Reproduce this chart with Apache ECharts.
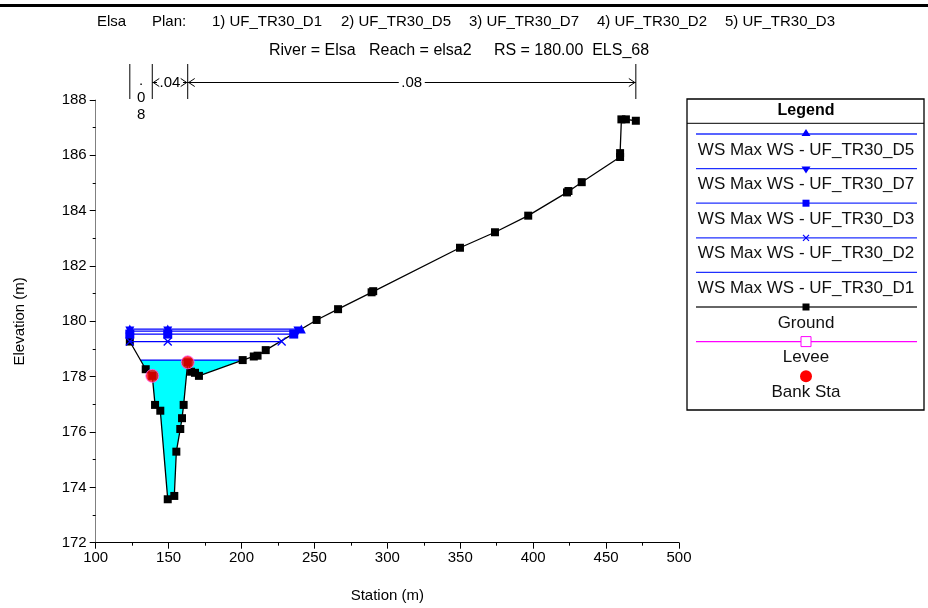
<!DOCTYPE html>
<html><head><meta charset="utf-8">
<script src="https://cdn.jsdelivr.net/npm/echarts@6/dist/echarts.min.js"></script>
<style>html,body{margin:0;padding:0;background:#fff}#c{width:928px;height:608px}</style>
</head><body><div id="c"></div>
<script>
// ---------- data ----------
const groundSta  = [123.4,134.3,138.8,140.7,144.3,149.4,153.9,155.3,158.0,159.2,160.3,163.1,165.4,168.1,170.8,200.8,208.4,211.0,216.6,251.5,266.2,289.2,290.3,349.8,373.8,396.6,423.2,424.2,433.3,459.6,459.6,460.5,463.6,470.4];
const groundElev = [179.27,178.27,178.03,176.98,176.77,173.57,173.69,175.29,176.11,176.50,176.98,178.52,178.18,178.14,178.03,178.60,178.73,178.76,178.96,180.05,180.44,181.05,181.09,182.66,183.22,183.82,184.66,184.71,185.03,185.94,186.08,187.30,187.30,187.25];

const wsNames    = ['WS Max WS - UF_TR30_D5','WS Max WS - UF_TR30_D7','WS Max WS - UF_TR30_D3','WS Max WS - UF_TR30_D2','WS Max WS - UF_TR30_D1'];
const wsElev     = [179.72, 179.65, 179.54, 179.27, 178.60];
const wsLeftSta  = [123.4, 123.4, 123.4, 123.4, 130.8];
const wsMidSta   = [149.4, 149.4, 149.4, 149.4, null];
const wsRightSta = [241.0, 238.7, 235.8, 227.5, 200.8];

const bankSta  = [138.8, 163.1];
const bankElev = [178.03, 178.52];

const nBreakSta = [123.4, 138.8, 163.1, 470.4];
const nValues   = ['.08', '.04', '.08'];

const headerParts = ['Elsa', 'Plan:', '1) UF_TR30_D1', '2) UF_TR30_D5', '3) UF_TR30_D7', '4) UF_TR30_D2', '5) UF_TR30_D3'];
const subTitle = 'River = Elsa   Reach = elsa2     RS = 180.00  ELS_68';
const xTicks = {min: 100, max: 500, step: 50};
const yTicks = {min: 172, max: 188, step: 2};
const legendNames = wsNames.concat(['Ground', 'Levee', 'Bank Sta']);

// ---------- chart ----------
const FONT = "'Liberation Sans', Arial, sans-serif";
const chart = echarts.init(document.getElementById('c'), null, {renderer: 'canvas'});

const BLUE = '#0000ff';
const wsSymbols = ['triangle', 'triangle', 'rect', 'path://M0,0L10,10M10,0L0,10', 'none'];
const wsRotate  = [0, 180, 0, 0, 0];

const series = [];
series.push({
  type: 'line', name: wsNames[4], z: 1,
  data: [[wsLeftSta[4], wsElev[4]], [wsRightSta[4], wsElev[4]]],
  symbol: 'none', lineStyle: {color: BLUE, width: 1.2},
  areaStyle: {color: '#00ffff', opacity: 1, origin: 'start'},
  animation: false
});
series.push({
  type: 'line', name: 'Ground', z: 2,
  data: groundSta.map((s, i) => [s, groundElev[i]]),
  symbol: 'rect', symbolSize: 8,
  itemStyle: {color: '#000'}, lineStyle: {color: '#000', width: 1.3},
  areaStyle: {color: '#fff', opacity: 1, origin: 'start'},
  animation: false
});
for (let i = 0; i < 4; i++) {
  const isX = i === 3;
  series.push({
    type: 'line', name: wsNames[i], z: 3,
    data: [[wsLeftSta[i], wsElev[i]], [wsMidSta[i], wsElev[i]], [wsRightSta[i], wsElev[i]]],
    symbol: wsSymbols[i], symbolRotate: wsRotate[i], symbolSize: isX ? 8 : 9,
    itemStyle: isX ? {color: 'none', borderColor: BLUE, borderWidth: 1.3} : {color: BLUE},
    lineStyle: {color: BLUE, width: 1.2},
    animation: false
  });
}
series.push({
  type: 'scatter', name: 'Bank Sta', z: 4,
  data: bankSta.map((s, i) => [s, bankElev[i]]),
  symbol: 'circle', symbolSize: 13,
  itemStyle: {color: '#ff0000', borderColor: '#ff60ff', borderWidth: 1},
  animation: false
});

chart.setOption({
  animation: false,
  backgroundColor: '#fff',
  grid: {left: 95.7, right: 249, top: 100, bottom: 65.3, containLabel: false, outerBoundsMode: 'none'},
  xAxis: {
    type: 'value', min: xTicks.min, max: xTicks.max, interval: xTicks.step, z: 5,
    name: 'Station (m)', nameLocation: 'middle', nameGap: 46,
    nameTextStyle: {fontFamily: FONT, fontSize: 15, color: '#000'},
    axisLine: {lineStyle: {color: '#000', width: 1}},
    axisTick: {show: true, inside: false, length: 6, lineStyle: {color: '#000'}},
    minorTick: {show: true, splitNumber: 2, length: 3, lineStyle: {color: '#000'}},
    splitLine: {show: false}, minorSplitLine: {show: false},
    axisLabel: {fontFamily: FONT, fontSize: 15, color: '#000', margin: 8}
  },
  yAxis: {
    type: 'value', min: yTicks.min, max: yTicks.max, interval: yTicks.step, z: 5,
    name: 'Elevation (m)', nameLocation: 'middle', nameGap: 68,
    nameTextStyle: {fontFamily: FONT, fontSize: 15, color: '#000'},
    axisLine: {show: true, lineStyle: {color: '#808080', width: 1}},
    axisTick: {show: true, inside: false, length: 6, lineStyle: {color: '#000'}},
    minorTick: {show: true, splitNumber: 2, length: 3, lineStyle: {color: '#000'}},
    splitLine: {show: false}, minorSplitLine: {show: false},
    axisLabel: {fontFamily: FONT, fontSize: 15, color: '#000', margin: 9}
  },
  series: series
});

// ---------- decorations (header, legend, n-values) ----------
const g = [];
g.push({type: 'rect', shape: {x: 0, y: 4, width: 928, height: 3}, style: {fill: '#000'}, silent: true});
const headerX = [97, 152, 212, 341, 469, 597, 725];
headerParts.forEach((t, i) => g.push({type: 'text', x: headerX[i], y: 22,
  style: {text: t, font: '15px ' + FONT, fill: '#000', verticalAlign: 'middle'}}));
g.push({type: 'text', x: 459, y: 51, style: {text: subTitle, font: '16px ' + FONT, fill: '#000', align: 'center', verticalAlign: 'middle'}});

const LX = 687, LY = 99, LW = 237, LH = 311, LC = 806;
g.push({type: 'rect', shape: {x: LX, y: LY, width: LW, height: LH}, style: {fill: '#fff', stroke: '#000', lineWidth: 1.3}});
g.push({type: 'text', x: LC, y: 111, style: {text: 'Legend', font: 'bold 16px ' + FONT, fill: '#000', align: 'center', verticalAlign: 'middle'}});
g.push({type: 'line', shape: {x1: LX, y1: 123.3, x2: LX + LW, y2: 123.3}, style: {stroke: '#000', lineWidth: 1}});
const legendColors = ['#2030ff', '#2030ff', '#2030ff', '#2030ff', '#2030ff', '#333', '#ff00ff', null];
legendNames.forEach((name, i) => {
  const ly = 134 + i * 34.6;
  const col = legendColors[i];
  if (col) g.push({type: 'line', shape: {x1: 696, y1: ly, x2: 917, y2: ly}, style: {stroke: col, lineWidth: 1.3}});
  if (i === 0) g.push({type: 'polygon', shape: {points: [[LC, ly - 5], [LC - 4.5, ly + 2], [LC + 4.5, ly + 2]]}, style: {fill: BLUE}});
  if (i === 1) g.push({type: 'polygon', shape: {points: [[LC, ly + 5], [LC - 4.5, ly - 2], [LC + 4.5, ly - 2]]}, style: {fill: BLUE}});
  if (i === 2) g.push({type: 'rect', shape: {x: LC - 3.5, y: ly - 3.5, width: 7, height: 7}, style: {fill: BLUE}});
  if (i === 3) {
    g.push({type: 'line', shape: {x1: LC - 3, y1: ly - 3, x2: LC + 3, y2: ly + 3}, style: {stroke: BLUE, lineWidth: 1.2}});
    g.push({type: 'line', shape: {x1: LC - 3, y1: ly + 3, x2: LC + 3, y2: ly - 3}, style: {stroke: BLUE, lineWidth: 1.2}});
  }
  if (i === 5) g.push({type: 'rect', shape: {x: LC - 3.5, y: ly - 3.5, width: 7, height: 7}, style: {fill: '#000'}});
  if (i === 6) g.push({type: 'rect', shape: {x: LC - 5, y: ly - 5, width: 10, height: 10}, style: {fill: '#fff', stroke: '#ff00ff', lineWidth: 1}});
  if (i === 7) g.push({type: 'circle', shape: {cx: LC, cy: ly, r: 6}, style: {fill: '#ff0000'}});
  g.push({type: 'text', x: LC, y: ly + 16, style: {text: name, font: '17px ' + FONT, fill: '#111', align: 'center', verticalAlign: 'middle'}});
});

const nx = nBreakSta.map(s => chart.convertToPixel({xAxisIndex: 0}, s));
const AY = 82.5;
nx.forEach(x => g.push({type: 'line', shape: {x1: x, y1: 64, x2: x, y2: 99}, style: {stroke: '#000', lineWidth: 1}}));
nValues.forEach((v, i) => {
  const x1 = nx[i], x2 = nx[i + 1], cx = (x1 + x2) / 2, w = x2 - x1;
  if (w < 30) {
    g.push({type: 'text', x: cx, y: 72, style: {text: v.split('').join('\n'), font: '15px ' + FONT, fill: '#000', align: 'center', verticalAlign: 'top', lineHeight: 17}});
    return;
  }
  const tw = 20;
  g.push({type: 'text', x: cx, y: AY, style: {text: v, font: '15px ' + FONT, fill: '#000', align: 'center', verticalAlign: 'middle'}});
  if (cx - tw / 2 - 3 > x1 + 2) {
    g.push({type: 'line', shape: {x1: x1, y1: AY, x2: cx - tw / 2 - 3, y2: AY}, style: {stroke: '#000', lineWidth: 1}});
    g.push({type: 'line', shape: {x1: cx + tw / 2 + 3, y1: AY, x2: x2, y2: AY}, style: {stroke: '#000', lineWidth: 1}});
  }
  g.push({type: 'polyline', shape: {points: [[x1 + 7, AY - 4], [x1 + 1, AY], [x1 + 7, AY + 4]]}, style: {stroke: '#000', fill: null, lineWidth: 1}});
  g.push({type: 'polyline', shape: {points: [[x2 - 7, AY - 4], [x2 - 1, AY], [x2 - 7, AY + 4]]}, style: {stroke: '#000', fill: null, lineWidth: 1}});
});

chart.setOption({graphic: {elements: g}});
</script>
</body></html>
